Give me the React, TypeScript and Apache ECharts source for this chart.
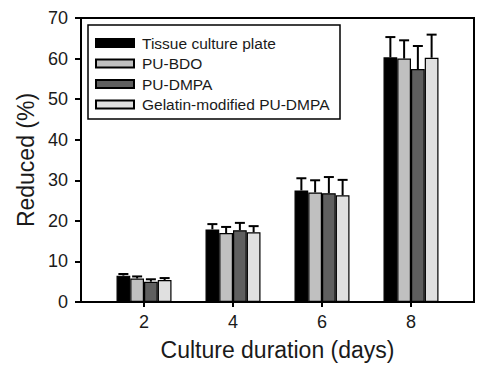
import React, { useEffect, useRef } from "react";
import * as echarts from "echarts";

const days = [2, 4, 6, 8];
const seriesNames = ["Tissue culture plate", "PU-BDO", "PU-DMPA", "Gelatin-modified PU-DMPA"];
const tcp = [6.5, 17.9, 27.5, 60.3];
const tcpErr = [0.4, 1.3, 3.0, 5.0];
const bdo = [5.8, 17.0, 27.0, 60.0];
const bdoErr = [0.5, 1.5, 3.0, 4.5];
const dmpa = [5.0, 17.7, 26.8, 57.4];
const dmpaErr = [0.6, 1.8, 4.0, 5.7];
const gel = [5.4, 17.2, 26.3, 60.2];
const gelErr = [0.5, 1.5, 3.8, 5.7];
const yTicks = [0, 10, 20, 30, 40, 50, 60, 70];

const values = [tcp, bdo, dmpa, gel];
const errors = [tcpErr, bdoErr, dmpaErr, gelErr];
const colors = ["#000000", "#c0c0c0", "#5f5f5f", "#e0e0e0"];
const BAR_W = 13.75;
const FONT = "Liberation Sans, Arial, sans-serif";
const TXT = "#1a1a1a";

export default function App() {
  const ref = useRef<HTMLDivElement>(null);
  useEffect(() => {
    if (!ref.current) return;
    const chart = echarts.init(ref.current, undefined, { renderer: "svg" });
    const barSeries = values.map((v, i) => ({
      name: seriesNames[i],
      type: "bar",
      barWidth: BAR_W,
      barGap: "0%",
      data: days.map((d, j) => [d, v[j]]),
      itemStyle: { color: colors[i], borderColor: "#000", borderWidth: 1.2 },
      z: 2,
    }));
    const errSeries = values.map((v, i) => ({
      name: "err" + i,
      type: "custom",
      z: 3,
      data: days.map((d, j) => [d, v[j], errors[i][j]]),
      renderItem: (params: any, api: any) => {
        const x = api.value(0);
        const y = api.value(1);
        const e = api.value(2);
        const off = (i - 1.5) * BAR_W;
        const p0 = api.coord([x, y]);
        const p1 = api.coord([x, y + e]);
        const cx = p0[0] + off;
        const style = { stroke: "#000", lineWidth: 2 };
        return {
          type: "group",
          children: [
            { type: "line", shape: { x1: cx, y1: p0[1], x2: cx, y2: p1[1] }, style },
            { type: "line", shape: { x1: cx - 5, y1: p1[1], x2: cx + 5, y2: p1[1] }, style },
          ],
        };
      },
    }));
    chart.setOption({
      animation: false,
      backgroundColor: "#ffffff",
      textStyle: { fontFamily: FONT },
      grid: {
        left: 81,
        right: 22,
        top: 18,
        bottom: 74,
        show: true,
        borderColor: "#000",
        borderWidth: 2,
        containLabel: false,
      },
      legend: {
        data: seriesNames,
        orient: "vertical",
        left: 95,
        top: 35,
        padding: 0,
        itemWidth: 38,
        itemHeight: 8,
        itemGap: 4.5,
        icon: "rect",
        textStyle: { fontSize: 15.5, color: TXT, fontFamily: FONT, padding: [0, 0, 0, 3] },
      },
      graphic: [
        {
          type: "rect",
          shape: { x: 88, y: 25, width: 252, height: 94 },
          style: { fill: "none", stroke: "#000", lineWidth: 1.5 },
          z: 10,
        },
      ],
      xAxis: {
        type: "value",
        min: 0.584,
        max: 9.416,
        name: "Culture duration (days)",
        nameLocation: "middle",
        nameGap: 36,
        nameTextStyle: { fontSize: 23, color: TXT, fontFamily: FONT },
        splitLine: { show: false },
        axisLine: { show: true, lineStyle: { color: "#000", width: 2 } },
        axisTick: { show: true, length: 5, lineStyle: { color: "#000", width: 2 }, customValues: days },
        axisLabel: { fontSize: 18, color: TXT, margin: 11, customValues: days, fontFamily: FONT },
      },
      yAxis: {
        type: "value",
        min: 0,
        max: 70,
        interval: 10,
        name: "Reduced (%)",
        nameLocation: "middle",
        nameGap: 42,
        nameTextStyle: { fontSize: 23, color: TXT, fontFamily: FONT },
        splitLine: { show: false },
        axisLine: { show: true, lineStyle: { color: "#000", width: 2 } },
        axisTick: { show: true, length: 6, lineStyle: { color: "#000", width: 2 } },
        axisLabel: { fontSize: 18, color: TXT, margin: 13, fontFamily: FONT, customValues: yTicks },
      },
      series: [...barSeries, ...errSeries],
    });
    return () => chart.dispose();
  }, []);
  return <div ref={ref} style={{ width: 496, height: 376, position: "absolute", left: 0, top: 0 }} />;
}
